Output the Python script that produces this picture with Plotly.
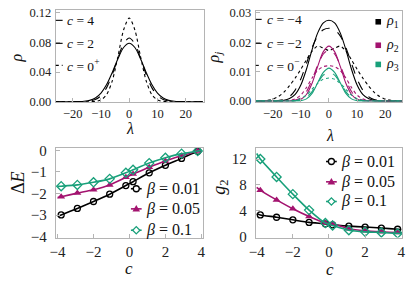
import plotly.graph_objects as go

# ---------------- data ----------------
lam = [-26, -24, -22, -20, -18, -16, -14, -12, -10, -8, -6, -4, -2, 0,
       2, 4, 6, 8, 10, 12, 14, 16, 18, 20, 22, 24, 26]

# top-left: rho for c = 4, 2, 0+
rho_c4 = [0, 0, 0, 0, 0.0002, 0.0006, 0.0018, 0.0050, 0.0116, 0.0231, 0.0395, 0.0581, 0.0732, 0.0790,
          0.0732, 0.0581, 0.0395, 0.0231, 0.0116, 0.0050, 0.0018, 0.0006, 0.0002, 0, 0, 0, 0]
rho_c2 = [0, 0, 0, 0, 0, 0.0002, 0.0008, 0.0029, 0.0081, 0.0190, 0.0367, 0.0589, 0.0782, 0.0860,
          0.0782, 0.0589, 0.0367, 0.0190, 0.0081, 0.0029, 0.0008, 0.0002, 0, 0, 0, 0, 0]
rho_c0 = [0, 0, 0, 0, 0, 0, 0, 0.0004, 0.0024, 0.0096, 0.0282, 0.0610, 0.0969, 0.1130,
          0.0969, 0.0610, 0.0282, 0.0096, 0.0024, 0.0004, 0, 0, 0, 0, 0, 0, 0]

# top-right: rho_j for c = -4 (solid), -2 (dashed), 0- (dotted)
rho1_cm4 = [0, 0, 0, 0, 0.0001, 0.0002, 0.0008, 0.0022, 0.0054, 0.0108, 0.0175, 0.0232, 0.0266, 0.0275,
            0.0266, 0.0232, 0.0175, 0.0108, 0.0054, 0.0022, 0.0008, 0.0002, 0.0001, 0, 0, 0, 0]
rho1_cm2 = [0, 0, 0, 0.00003, 0.00015, 0.0005, 0.0015, 0.0037, 0.0075, 0.0128, 0.0182, 0.0222, 0.0243, 0.0248,
            0.0243, 0.0222, 0.0182, 0.0128, 0.0075, 0.0037, 0.0015, 0.0005, 0.00015, 0.00003, 0, 0, 0]
rho1_c0 = [0, 0.0001, 0.0002, 0.0006, 0.0015, 0.0030, 0.0052, 0.0078, 0.0108, 0.0140, 0.0170, 0.0187, 0.0180, 0.0172,
           0.0180, 0.0187, 0.0170, 0.0140, 0.0108, 0.0078, 0.0052, 0.0030, 0.0015, 0.0006, 0.0002, 0.0001, 0]
rho2_cm4 = [0, 0, 0, 0, 0, 0, 0, 0.0001, 0.0006, 0.0022, 0.0060, 0.0118, 0.0168, 0.0187,
            0.0168, 0.0118, 0.0060, 0.0022, 0.0006, 0.0001, 0, 0, 0, 0, 0, 0, 0]
rho2_cm2 = [0, 0, 0, 0, 0, 0, 0.0001, 0.0003, 0.0011, 0.0032, 0.0072, 0.0122, 0.0160, 0.0174,
            0.0160, 0.0122, 0.0072, 0.0032, 0.0011, 0.0003, 0.0001, 0, 0, 0, 0, 0, 0]
rho2_c0 = [0, 0, 0, 0, 0, 0.0001, 0.0002, 0.0007, 0.0020, 0.0046, 0.0078, 0.0104, 0.0117, 0.0120,
           0.0117, 0.0104, 0.0078, 0.0046, 0.0020, 0.0007, 0.0002, 0.0001, 0, 0, 0, 0, 0]
rho3_cm4 = [0, 0, 0, 0, 0, 0, 0, 0, 0.0001, 0.0007, 0.0026, 0.0062, 0.0097, 0.0112,
            0.0097, 0.0062, 0.0026, 0.0007, 0.0001, 0, 0, 0, 0, 0, 0, 0, 0]
rho3_cm2 = [0, 0, 0, 0, 0, 0, 0, 0.0001, 0.0003, 0.0012, 0.0032, 0.0062, 0.0088, 0.0098,
            0.0088, 0.0062, 0.0032, 0.0012, 0.0003, 0.0001, 0, 0, 0, 0, 0, 0, 0]
rho3_c0 = [0, 0, 0, 0, 0, 0, 0, 0.0002, 0.0008, 0.0020, 0.0040, 0.0060, 0.0074, 0.0078,
           0.0074, 0.0060, 0.0040, 0.0020, 0.0008, 0.0002, 0, 0, 0, 0, 0, 0, 0]

# bottom panels: sampled points
c_vals = [-3.8, -2.9, -2.0, -1.1, -0.2, 0.2, 1.1, 2.0, 2.9, 3.8]
dE_b001 = [-2.99, -2.69, -2.37, -2.03, -1.63, -1.45, -1.04, -0.69, -0.37, -0.04]
dE_b005 = [-2.15, -1.98, -1.82, -1.60, -1.25, -1.10, -0.78, -0.49, -0.25, -0.03]
dE_b01 = [-1.66, -1.60, -1.48, -1.32, -1.04, -0.90, -0.59, -0.34, -0.15, -0.03]
g2_b001 = [3.36, 3.00, 2.60, 2.20, 1.98, 1.83, 1.63, 1.48, 1.33, 1.14]
g2_b005 = [7.16, 5.68, 4.30, 3.10, 2.10, 1.98, 1.23, 0.90, 0.74, 0.64]
g2_b01 = [12.0, 9.23, 6.57, 4.10, 2.10, 1.73, 1.00, 0.74, 0.64, 0.50]

# fitted curves (drawn through the points, extended to the frame edges)
c_line = [-4.0, -3.8, -2.9, -2.0, -1.1, -0.2, 0.2, 1.1, 2.0, 2.9, 3.8, 4.0]
dE_line_b001 = [-3.05, -2.99, -2.69, -2.37, -2.03, -1.63, -1.45, -1.04, -0.69, -0.37, -0.04, 0.0]
dE_line_b005 = [-2.18, -2.15, -1.98, -1.82, -1.60, -1.25, -1.10, -0.78, -0.49, -0.25, -0.03, 0.0]
dE_line_b01 = [-1.67, -1.66, -1.60, -1.48, -1.32, -1.04, -0.90, -0.59, -0.34, -0.15, -0.03, 0.0]
g2_line_b001 = [3.50, 3.36, 3.00, 2.60, 2.20, 1.98, 1.83, 1.63, 1.48, 1.33, 1.14, 1.10]
g2_line_b005 = [7.60, 7.16, 5.68, 4.30, 3.10, 2.10, 1.98, 1.23, 0.90, 0.74, 0.64, 0.62]
g2_line_b01 = [12.85, 12.0, 9.23, 6.57, 4.10, 2.10, 1.73, 1.00, 0.74, 0.64, 0.50, 0.48]

top_left_labels = ["<i>c</i> = 4", "<i>c</i> = 2", "<i>c</i> = 0<sup>+</sup>"]
top_right_labels = ["<i>c</i> = −4", "<i>c</i> = −2", "<i>c</i> = 0<sup>−</sup>"]
rho_j_labels = ["<i>ρ</i><sub>1</sub>", "<i>ρ</i><sub>2</sub>", "<i>ρ</i><sub>3</sub>"]
beta_labels = ["<i>β</i> = 0.01", "<i>β</i> = 0.05", "<i>β</i> = 0.1"]

# ---------------- style ----------------
W, H = 411, 289
BLACK = "#000000"
MAG = "#a3136f"
GRN = "#18a07a"
FONT = "Liberation Serif, Times New Roman, DejaVu Serif, serif"
FRAME = "#b4b4b4"


def px(x):
    return x / W


def py(y):
    return 1 - y / H


fig = go.Figure()

# top-left
for vals, dash in [(rho_c4, "solid"), (rho_c2, "dash"), (rho_c0, "dot")]:
    fig.add_trace(go.Scatter(x=lam, y=vals, mode="lines",
                             line=dict(color=BLACK, width=1.1, dash=dash, shape="spline", smoothing=0.8),
                             xaxis="x", yaxis="y", showlegend=False, hoverinfo="skip"))

# top-right
for series, col in [((rho1_cm4, rho1_cm2, rho1_c0), BLACK), ((rho2_cm4, rho2_cm2, rho2_c0), MAG),
                    ((rho3_cm4, rho3_cm2, rho3_c0), GRN)]:
    for vals, dash in zip(series, ["solid", "dash", "dot"]):
        fig.add_trace(go.Scatter(x=lam, y=vals, mode="lines",
                                 line=dict(color=col, width=1.1, dash=dash, shape="spline", smoothing=0.8),
                                 xaxis="x2", yaxis="y2", showlegend=False, hoverinfo="skip"))

# bottom-left and bottom-right
markers = [dict(symbol="circle-open", size=6, color=BLACK, line=dict(width=1.3, color=BLACK)),
           dict(symbol="triangle-up", size=7, color=MAG, line=dict(width=0)),
           dict(symbol="diamond-open", size=7, color=GRN, line=dict(width=1.3, color=GRN))]
cols = [BLACK, MAG, GRN]
for ax, lines, pts in [("3", [dE_line_b001, dE_line_b005, dE_line_b01], [dE_b001, dE_b005, dE_b01]),
                       ("4", [g2_line_b001, g2_line_b005, g2_line_b01], [g2_b001, g2_b005, g2_b01])]:
    for ln, pt, col, mk in zip(lines, pts, cols, markers):
        fig.add_trace(go.Scatter(x=c_line, y=ln, mode="lines",
                                 line=dict(color=col, width=1.6, shape="spline", smoothing=0.6),
                                 xaxis="x" + ax, yaxis="y" + ax, showlegend=False, hoverinfo="skip"))
        fig.add_trace(go.Scatter(x=c_vals, y=pt, mode="markers", marker=mk,
                                 xaxis="x" + ax, yaxis="y" + ax, showlegend=False, hoverinfo="skip"))

axis_common = dict(showgrid=False, zeroline=False, showline=True, mirror=True, linecolor=FRAME, linewidth=1,
                   ticks="inside", ticklen=4, tickcolor=FRAME, tickfont=dict(family=FONT, size=12.5, color="#222"))
big_tick = dict(family=FONT, size=15, color="#222")

fig.update_layout(
    width=W, height=H, margin=dict(l=0, r=0, t=0, b=0),
    paper_bgcolor="white", plot_bgcolor="white",
    xaxis=dict(axis_common, domain=[px(50), px(202)], range=[-26, 26.5], tickvals=[-20, -10, 0, 10, 20],
               anchor="y"),
    yaxis=dict(axis_common, domain=[py(101.5), py(5.5)], range=[-0.0008, 0.1235], tickvals=[0, 0.04, 0.08, 0.12],
               tickformat=".2f", anchor="x", ticklabelstandoff=1),
    xaxis2=dict(axis_common, domain=[px(255), px(405)], range=[-26, 26], tickvals=[-20, -10, 0, 10, 20],
                anchor="y2"),
    yaxis2=dict(axis_common, domain=[py(101), py(6)], range=[-0.0003, 0.03075], tickvals=[0, 0.01, 0.02, 0.03],
                tickformat=".2f", anchor="x2", ticklabelstandoff=1),
    xaxis3=dict(axis_common, domain=[px(50), px(201)], range=[-4.1, 4.1], tickvals=[-4, -2, 0, 2, 4], anchor="y3",
                tickfont=big_tick),
    yaxis3=dict(axis_common, domain=[py(242.7), py(149)], range=[-4.044, 0.12], tickvals=[-4, -3, -2, -1, 0],
                anchor="x3", tickfont=big_tick, ticklabelstandoff=5),
    xaxis4=dict(axis_common, domain=[px(255), px(405)], range=[-4.05, 4.05], tickvals=[-4, -2, 0, 2, 4],
                anchor="y4", tickfont=big_tick),
    yaxis4=dict(axis_common, domain=[py(242.7), py(149)], range=[-0.15, 13.73], tickvals=[0, 4, 8, 12],
                anchor="x4", tickfont=big_tick, ticklabelstandoff=5),
)

ann = []
shapes = []


def text(x, y, s, size=13, angle=0, xanchor="center"):
    ann.append(dict(x=px(x), y=py(y), xref="paper", yref="paper", text=s, showarrow=False, textangle=angle,
                    xanchor=xanchor, yanchor="middle", font=dict(family=FONT, size=size, color="#111")))


# axis titles
text(10, 55, "<i>ρ</i>", 16, -90)
text(126, 129, "<i>λ</i>", 16)
text(213, 55, "<i>ρ<sub>j</sub></i>", 16, -90)
text(331, 136, "<i>λ</i>", 16)
text(12, 185, "Δ<i>E</i>", 18, -90)
text(125, 275, "<i>c</i>", 17)
text(218, 190, "<i>g</i><sub>2</sub>", 18, -90)
text(331, 276, "<i>c</i>", 17)

# top-left legend
for yy, lab, dash in zip([16, 40, 63], top_left_labels, ["solid", "dash", "dot"]):
    shapes.append(dict(type="line", xref="paper", yref="paper", x0=px(50), x1=px(57), y0=py(yy), y1=py(yy),
                       line=dict(color=BLACK, width=1.1, dash=dash)))
    text(59, yy, lab, 13.5, xanchor="left")

# top-right legends
for yy, lab, dash in zip([15, 40, 63], top_right_labels, ["solid", "dash", "dot"]):
    shapes.append(dict(type="line", xref="paper", yref="paper", x0=px(255), x1=px(261), y0=py(yy), y1=py(yy),
                       line=dict(color=BLACK, width=1.1, dash=dash)))
    text(264, yy, lab, 13.5, xanchor="left")
for yy, lab, col in zip([17.5, 42, 62], rho_j_labels, cols):
    shapes.append(dict(type="rect", xref="paper", yref="paper", xsizemode="pixel", ysizemode="pixel",
                       xanchor=px(380.5), yanchor=py(yy), x0=-2.8, x1=2.8, y0=-2.8, y1=2.8,
                       fillcolor=col, line=dict(width=0)))
    text(386, yy, lab, 14, xanchor="left")


# bottom legends
def marker_shape(kind, xa, ya, col):
    base = dict(xref="paper", yref="paper", xsizemode="pixel", ysizemode="pixel", xanchor=xa, yanchor=ya)
    if kind == 0:
        shapes.append(dict(base, type="circle", x0=-3, x1=3, y0=-3, y1=3, fillcolor="white",
                           line=dict(color=col, width=1.3)))
    elif kind == 1:
        shapes.append(dict(base, type="path", path="M-3.8,-2.6L3.8,-2.6L0,3.8Z", fillcolor=col, line=dict(width=0)))
    else:
        shapes.append(dict(base, type="path", path="M0,-3.6L3.6,0L0,3.6L-3.6,0Z", fillcolor="white",
                           line=dict(color=col, width=1.3)))


for (x0, x1, ys) in [(127, 138, [191.7, 212.7, 235]), (327, 338, [163.3, 184.5, 205])]:
    for k, (yy, lab, col) in enumerate(zip(ys, beta_labels, cols)):
        shapes.append(dict(type="line", xref="paper", yref="paper", x0=px(x0), x1=px(x1), y0=py(yy), y1=py(yy),
                           line=dict(color=col, width=1.6)))
        marker_shape(k, px((x0 + x1) / 2), py(yy), col)
        text(x1 + 2, yy, lab, 16, xanchor="left")

fig.update_layout(annotations=ann, shapes=shapes)
fig.write_html("out.html", config={"displayModeBar": False, "staticPlot": True},
               post_script="document.body.style.margin='0';document.body.style.padding='0';"
                           "document.documentElement.style.overflow='hidden';")
